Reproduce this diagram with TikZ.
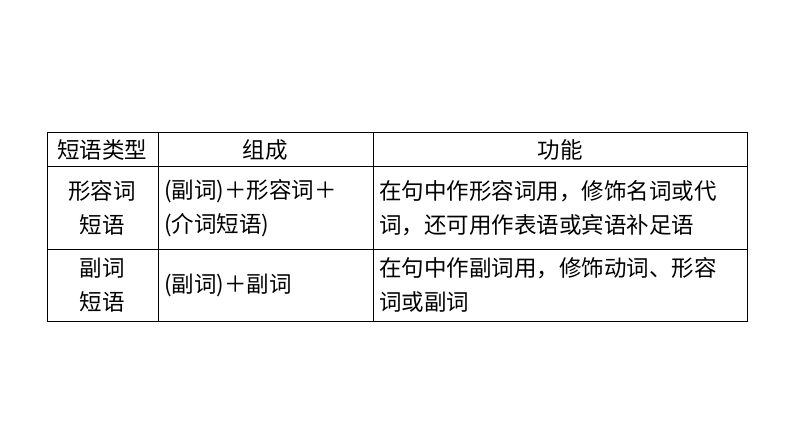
\documentclass[tikz,border=0pt]{standalone}
\usepackage{fontspec}
\setmainfont{Noto Sans CJK SC}
\usetikzlibrary{positioning}
\tikzstyle{grid} = [line width=0.8pt, draw=black]
\tikzstyle{cell} = [inner sep=0pt, font=\fontsize{22.5}{34}\selectfont, align=center]
\tikzstyle{lcell} = [inner sep=0pt, font=\fontsize{22.5}{34}\selectfont, align=left, anchor=west]

\begin{document}
\begin{tikzpicture}[x=1pt, y=-1pt]
\useasboundingbox (0,0) rectangle (794,447);
% table frame
\draw [grid] (47,132) rectangle (747,321);
\draw [grid] (47,166) -- (747,166);
\draw [grid] (47,249) -- (747,249);
\draw [grid] (158,132) -- (158,321);
\draw [grid] (373,132) -- (373,321);

% header
\node (type) [cell] at (102,150) {短语类型};
\node (form) [cell] at (265,150) {组成};
\node (func) [cell] at (560,150) {功能};

% adjective phrase
\node (adj) [cell] at (102,208) {形容词\\短语};
\node (adjform) [lcell] at (164,208) {(副词)＋形容词＋\\(介词短语)};
\node (adjfunc) [lcell] at (379,208) {在句中作形容词用，修饰名词或代\\词，还可用作表语或宾语补足语};

% adverb phrase
\node (adv) [cell] at (102,285) {副词\\短语};
\node (advform) [lcell] at (164,285) {(副词)＋副词};
\node (advfunc) [lcell] at (379,285) {在句中作副词用，修饰动词、形容\\词或副词};
\end{tikzpicture}
\end{document}
